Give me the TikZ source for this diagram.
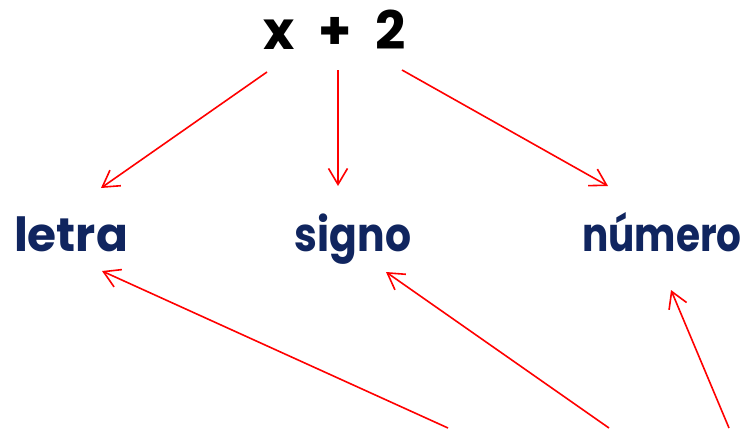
\documentclass[tikz,border=0pt]{standalone}
\usepackage{fontspec}
\setmainfont{Poppins}
\usetikzlibrary{arrows.meta}
\definecolor{navy}{HTML}{10255F}
\definecolor{arrred}{HTML}{FF0000}
\tikzset{
  lbl/.style={font=\bfseries\fontsize{47}{50}\selectfont, text=navy, anchor=base, inner sep=0pt},
  expr/.style={font=\bfseries\fontsize{53}{56}\selectfont, text=black, anchor=base, inner sep=0pt},
  arr/.style={draw=arrred, line width=1.6pt, -{Straight Barb[length=16pt,width=19pt,line width=1.6pt]}}
}
\begin{document}
\begin{tikzpicture}[x=1pt,y=-1pt]
\useasboundingbox (0,0) rectangle (746,428);
\node[expr] (ex) at (335,50) {x\hspace{0.45em}+\hspace{0.45em}2};
\node[lbl] (letra) at (71,251) {letra};
\node[lbl] (signo) at (353,251) {\scalebox{0.87}[1]{signo}};
\node[lbl] (numero) at (662,251) {\scalebox{0.83}[1]{número}};
% start points under the expression
\coordinate (s1) at (267,72);
\coordinate (s2) at (338,70);
\coordinate (s3) at (402,70);
% end points at the labels
\coordinate (t1) at (101,188);
\coordinate (t2) at (338,186);
\coordinate (t3) at (608,186);
\coordinate (u1) at (102,271);
\coordinate (u2) at (386,272);
\coordinate (u3) at (671,290);
% free ends at the bottom
\coordinate (b1) at (448,428);
\coordinate (b2) at (609,428);
\coordinate (b3) at (729,428);
\draw[arr] (s1) -- (t1);
\draw[arr] (s2) -- (t2);
\draw[arr] (s3) -- (t3);
\draw[arr] (b1) -- (u1);
\draw[arr] (b2) -- (u2);
\draw[arr] (b3) -- (u3);
\end{tikzpicture}
\end{document}
